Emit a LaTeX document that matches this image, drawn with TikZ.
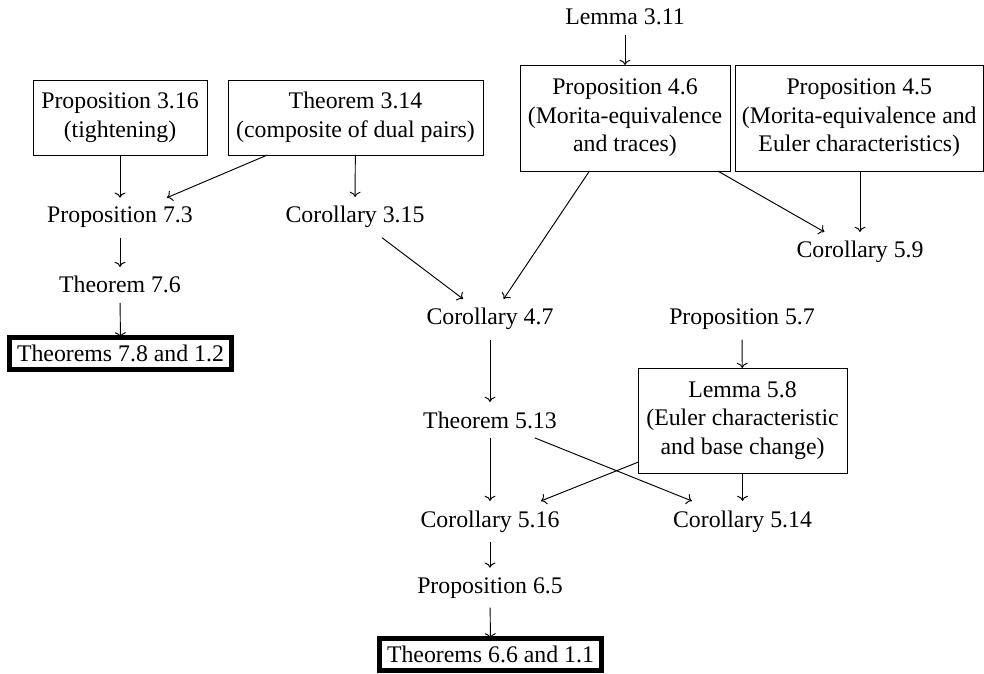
\documentclass[tikz,border=0pt]{standalone}
\usepackage{fontspec}
\setmainfont{Liberation Serif}
\usetikzlibrary{arrows.meta}
\begin{document}
\begin{tikzpicture}[x=0.42pt,y=-0.42pt,
  lbl/.style={inner xsep=3pt, inner ysep=4pt, outer sep=0pt, anchor=base},
  bx/.style={draw, line width=0.4pt, align=center, inner sep=0pt, outer sep=0pt},
  fin/.style={draw, line width=2pt, inner sep=0pt, outer sep=0pt},
  arr/.style={-{To[length=2.2pt,width=4.6pt]}, line width=0.4pt}]
\useasboundingbox (0,0) rectangle (984,673);
% boxed nodes
\node[bx, minimum width=174*0.42pt, minimum height=75*0.42pt] (p316) at (120,117.5) {Proposition 3.16\\(tightening)};
\node[bx, minimum width=255*0.42pt, minimum height=75*0.42pt] (t314) at (355.5,117.5) {Theorem 3.14\\(composite of dual pairs)};
\node[bx, minimum width=210*0.42pt, minimum height=106*0.42pt] (p46) at (625,118) {Proposition 4.6\\(Morita-equivalence\\and traces)};
\node[bx, minimum width=248.5*0.42pt, minimum height=106*0.42pt] (p45) at (859.25,118) {Proposition 4.5\\(Morita-equivalence and\\Euler characteristics)};
\node[bx, minimum width=209*0.42pt, minimum height=105*0.42pt] (l58) at (742.5,420.5) {Lemma 5.8\\(Euler characteristic\\and base change)};
\node[fin, minimum width=222*0.42pt, minimum height=32*0.42pt] (f1) at (120.5,353.5) {Theorems 7.8 and 1.2};
\node[fin, minimum width=222*0.42pt, minimum height=32*0.42pt] (f2) at (490.5,654.5) {Theorems 6.6 and 1.1};
% text nodes
\node[lbl] (l311) at (625,25) {Lemma 3.11};
\node[lbl] (p73) at (120,223) {Proposition 7.3};
\node[lbl] (c315) at (355,223) {Corollary 3.15};
\node[lbl] (t76) at (120,293) {Theorem 7.6};
\node[lbl] (c59) at (860,258) {Corollary 5.9};
\node[lbl] (c47) at (490,325) {Corollary 4.7};
\node[lbl] (p57) at (742,325) {Proposition 5.7};
\node[lbl] (t513) at (490,428) {Theorem 5.13};
\node[lbl] (c516) at (490,527) {Corollary 5.16};
\node[lbl] (c514) at (742.5,527) {Corollary 5.14};
\node[lbl] (p65) at (490,593) {Proposition 6.5};
% arrows
\draw[arr] (l311) -- (p46);
\draw[arr] (p316) -- (p73);
\draw[arr] (t314) -- (p73);
\draw[arr] (t314) -- (c315);
\draw[arr] (c315) -- (c47);
\draw[arr] (p46) -- (c47);
\draw[arr] (p46) -- (c59);
\draw[arr] (p45.south -| c59) -- (c59);
\draw[arr] (p73) -- (t76);
\draw[arr] (t76) -- (f1);
\draw[arr] (c47) -- (t513);
\draw[arr] (p57) -- (l58);
\draw[arr] (t513) -- (c514);
\draw[arr] (l58) -- (c516);
\draw[arr] (t513) -- (c516);
\draw[arr] (l58) -- (c514);
\draw[arr] (c516) -- (p65);
\draw[arr] (p65) -- (f2);
\end{tikzpicture}
\end{document}
